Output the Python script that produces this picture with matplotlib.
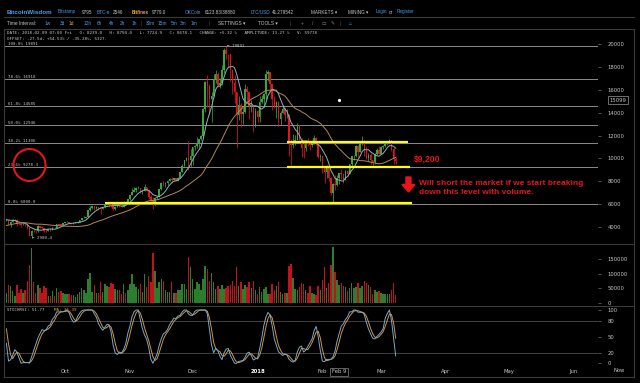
import numpy as np
import pandas as pd
import matplotlib
matplotlib.use("Agg")
import matplotlib.pyplot as plt
from matplotlib.patches import Ellipse, Polygon
from matplotlib.lines import Line2D

W, H = 640, 383

# closes before the first visible candle (Aug 1 - Sep 2 2017), only feed the MA / StochRSI
warmup_close = [2718, 2711, 2804, 2895, 3252, 3213, 3379, 3419, 3342, 3381, 3650, 3884, 4073,
                4325, 4182, 4376, 4331, 4160, 4193, 4087, 4001, 4100, 4151, 4334, 4371, 4352,
                4382, 4382, 4579, 4565, 4703, 4892, 4578]

first_date = "2017-09-03"
# daily candles, Sep 3 2017 -> Mar 8 2018 (BTC/USD)
close = [
    # Sep
    4582, 4236, 4376, 4597, 4599, 4228, 4226, 4122, 4162, 4130, 3882, 3155, 3637, 3625,
    3582, 4065, 3925, 3906, 3631, 3630, 3792, 3682, 3926, 3892, 4200, 4174, 4164, 4338,
    # Oct
    4403, 4409, 4318, 4229, 4328, 4370, 4426, 4611, 4773, 4782, 4820, 5430, 5650, 5833,
    5678, 5726, 5605, 5590, 5708, 6011, 6031, 6009, 5930, 5526, 5750, 5905, 5780, 5754,
    6154, 6130, 6468,
    # Nov
    6767, 7078, 7207, 7379, 7407, 7022, 7144, 7459, 7143, 6618, 6357, 5950, 6559, 6635,
    7315, 7871, 7708, 7790, 8036, 8200, 8071, 8253, 8038, 8253, 8790, 9330, 9818, 10058,
    9888, 10233,
    # Dec
    10975, 11074, 11323, 11657, 11916, 14291, 16700, 16300, 15178, 15455, 16936, 17415,
    16408, 16564, 17706, 19497, 19140, 19114, 17776, 16624, 15802, 13831, 14699, 13925,
    14027, 16099, 15838, 14606, 14656, 12952, 14156,
    # Jan
    13657, 14982, 15201, 15599, 17429, 17527, 16477, 15170, 14595, 14973, 13405, 13980,
    14360, 13772, 13819, 11490, 11188, 11474, 11607, 12899, 11600, 10931, 10868, 11359,
    11259, 11171, 11441, 11787, 11296, 10107, 10221,
    # Feb
    9170, 8830, 9174, 8277, 6955, 7754, 7621, 8239, 8678, 8621, 8129, 8926, 8598, 9494,
    10166, 10233, 11112, 10551, 11225, 11403, 10690, 10005, 10301, 9813, 9664, 10366,
    10725, 10397,
    # Mar
    10951, 11086, 11489, 11512, 11573, 10779, 9965, 9779,
]
high = [
    4714, 4582, 4472, 4655, 4681, 4656, 4322, 4240, 4282, 4344, 4130, 3921, 3733, 3809,
    3706, 4110, 4074, 4041, 3917, 3788, 3819, 3799, 3970, 3957, 4211, 4248, 4194, 4363,
    4404, 4471, 4433, 4353, 4362, 4414, 4468, 4625, 4801, 4922, 4877, 5446, 5857, 5840,
    5839, 5785, 5766, 5605, 5724, 6070, 6194, 6076, 6072, 5935, 5800, 5976, 5990, 5877,
    6255, 6214, 6470,
    6767, 7367, 7461, 7492, 7601, 7418, 7207, 7776, 7506, 7312, 6795, 6625, 6626, 6696,
    7330, 7964, 8004, 7884, 8101, 8300, 8373, 8303, 8267, 8336, 8814, 9523, 9818, 10125,
    11517, 10801,
    11000, 11191, 11858, 11657, 12032, 14369, 16800, 17300, 16500, 15783, 17413, 17782,
    17568, 17069, 18155, 19716, 19891, 19177, 19150, 17813, 17301, 15823, 15493, 14869,
    14467, 16486, 16343, 15900, 15109, 14681, 14377,
    14200, 15444, 15572, 15739, 17705, 17712, 17584, 16537, 15497, 15000, 15000, 14109,
    14659, 14511, 14356, 13843, 11678, 12107, 12040, 13103, 12920, 11807, 11399, 11502,
    11742, 11634, 11620, 12072, 11875, 11307, 10381,
    10244, 9200, 9430, 9334, 8364, 7850, 8558, 8509, 8750, 9066, 8650, 8985, 8958, 9518,
    10219, 10324, 11140, 11200, 11250, 11958, 11646, 11088, 10428, 10501, 9860, 10475,
    10871, 11063,
    11099, 11190, 11528, 11513, 11690, 11574, 10899, 10100,
]
low = [
    4467, 4130, 3998, 4376, 4501, 4072, 4167, 3952, 4110, 4085, 3770, 3154, 2980.4, 3504,
    3445, 3575, 3868, 3867, 3570, 3519, 3595, 3658, 3682, 3856, 3884, 4140, 4030, 4164,
    4287, 4370, 4226, 4209, 4193, 4328, 4361, 4426, 4576, 4746, 4773, 4820, 5380, 5577,
    5446, 5578, 5502, 5109, 5523, 5629, 5930, 5722, 5687, 5453, 5450, 5749, 5722, 5686,
    5702, 6030, 6103,
    6377, 6758, 7002, 7031, 7344, 6945, 6906, 7115, 7101, 6423, 6199, 5519, 5845, 6463,
    6635, 7177, 7561, 7463, 7695, 7982, 7875, 8067, 8038, 8000, 8250, 8775, 9320, 9736,
    9009, 9202,
    9422, 10695, 10863, 10938, 11605, 11900, 14057, 14500, 13906, 13226, 15402, 16570,
    16273, 16185, 16444, 17515, 18750, 18022, 16812, 15643, 14888, 10875, 13356, 12750,
    13010, 14000, 14954, 13466, 14022, 12350, 12755,
    13154, 13163, 14844, 14522, 15202, 16764, 15791, 14208, 14424, 13530, 12842, 12916,
    13952, 13268, 13500, 10194, 9402, 10942, 11139, 11600, 11491, 10129, 10061, 10642,
    11100, 10689, 11002, 11434, 11179, 10037, 9777,
    8751, 7796, 8251, 8032, 6756, 6000, 7236, 7600, 7724.9, 8162, 7850, 8129, 8455, 8598,
    9347, 9824, 10149, 10080, 10513, 11200, 10233, 9906, 9745, 9513, 9367, 9501,
    10322, 10360,
    10352, 10850, 11002, 11136, 11431, 10629, 9467, 9460,
]
first_open = 4578
volume = [
    33700, 60500, 58000, 40700, 24400, 60500, 33700, 46500, 32600, 41900,
    73000, 130000, 187000, 72000, 35000, 60500, 48800, 35000, 58000, 51000,
    24400, 23000, 40700, 24400, 50000, 37200, 39500, 32600, 30000, 29000,
    29000, 26700, 26700, 21000, 30000, 36000, 51000, 45300, 33700, 82500,
    101000, 38400, 59300, 33700, 33700, 71000, 38400, 64000, 57000, 53500,
    68600, 65000, 46500, 45300, 41900, 30000, 62800, 35000, 41900, 62800,
    100000, 65000,
    53500, 46500, 65000, 38400, 100000, 53500, 90700, 72000, 170000, 109000,
    51000, 71000, 82500, 75600, 41900, 38400, 38400, 72000, 32600, 32600,
    41900, 41900, 65000, 65000, 47700, 158000, 123000, 82500, 47700, 69800,
    65000, 44200, 80200, 127000, 115000, 74400, 101000, 72000, 47700, 58000,
    47700, 60500, 46500, 50000, 57000, 60500, 73000, 58000, 123000, 58000,
    69800, 47700, 60500, 53500, 69800, 50000, 74400, 41900, 30000, 53500,
    38400, 47700, 53500,
    30200, 30200, 62800, 41900, 57000, 69800, 38400, 30200, 34900, 34900,
    126700, 131400, 86000, 47700, 45300, 54700, 66300, 64000, 44200, 33700,
    55800, 33700, 30200, 27900, 58100, 45300, 77900, 120900, 51200, 68600,
    129000, 190700, 104700, 79100, 59778, 66300, 57000, 52300, 39500, 50000,
    67400, 50000, 53500, 66300, 50000, 58100, 73300, 66300, 59300, 53500,
    30200, 44200, 37200, 40700, 32600, 30200, 30200, 30200, 29100, 41900,
    68600, 26700,
]

fib_levels = [6000.0, 9278.3, 11306, 12946, 14585, 16918, 19891]
fib_labels = ["0.0% 6000.0", "23.6% 9278.3", "38.2% 11306", "50.0% 12946",
              "61.8% 14585", "78.6% 16918", "100.0% 19891"]

# hand-drawn yellow levels: (price, from date, to date)
yellow_levels = [(11400, "2018-01-15", "2018-03-14"),
                 (9230, "2018-01-15", "2018-03-15"),
                 (6050, "2017-10-20", "2018-03-16")]

month_ticks = ["2017-10-01", "2017-11-01", "2017-12-01", "2018-01-01", "2018-02-01",
               "2018-03-01", "2018-04-01", "2018-05-01", "2018-06-01"]
month_labels = ["Oct", "Nov", "Dec", "2018", "Feb", "Mar", "Apr", "May", "Jun"]

price_ticks = [4000, 6000, 8000, 10000, 12000, 14000, 16000, 18000, 20000]
vol_ticks = [0, 50000, 100000, 150000]
stoch_ticks = [0, 20, 50, 80, 100]

hover_date = "2018-02-09"
hover_stoch = "STOCHRSI: 51.77"
hover_ma = "MA: 36.39"
cursor_price = 15099

GREEN, RED = "#38a838", "#e0161c"
VGREEN, VRED = "#2c7d2c", "#c0141a"
GREY = "#c8c8c8"
BLUE = "#4a9be8"
ORANGE = "#e8a33a"

origin = pd.Timestamp("2017-10-01")


def day(d):
    return (pd.Timestamp(d) - origin).days


close = np.array(close, float)
high = np.array(high, float)
low = np.array(low, float)
volume = np.array(volume, float)
opn = np.concatenate([[first_open], close[:-1]])
x = np.arange(len(close)) + day(first_date)

# indicators over the full close history
allc = pd.Series(list(warmup_close) + list(close), dtype=float)
n = len(close)
ma7 = allc.rolling(7).mean().values[-n:]
ma30 = allc.rolling(30).mean().values[-n:]
delta = allc.diff()
gain = delta.clip(lower=0).ewm(alpha=1 / 14, adjust=False).mean()
loss = (-delta.clip(upper=0)).ewm(alpha=1 / 14, adjust=False).mean()
rsi = 100 - 100 / (1 + gain / loss)
lo, hi = rsi.rolling(14).min(), rsi.rolling(14).max()
stoch = (rsi - lo) / (hi - lo) * 100
k = stoch.rolling(3).mean()
d = k.rolling(3).mean()
k = k.values[-n:]
d = d.values[-n:]

fig = plt.figure(figsize=(6.4, 3.83), dpi=100, facecolor="black")


def rect(top, bottom, left=5, right=598):
    return [left / W, 1 - bottom / H, (right - left) / W, (bottom - top) / H]


def fx(px):
    return px / W


def fy(py):
    return 1 - py / H


ax = fig.add_axes(rect(42, 243))
axv = fig.add_axes(rect(245, 305))
axs = fig.add_axes(rect(306, 366))
for a in (ax, axv, axs):
    a.set_facecolor("black")
    for s in a.spines.values():
        s.set_visible(False)
    a.set_xlim(-28.67, 254.67)
    a.yaxis.tick_right()
    a.tick_params(axis="y", length=2, width=0.5, color="#777", pad=5,
                  labelsize=3.8, labelcolor=GREY)
    a.tick_params(axis="x", length=0)
    a.set_xticks([])

# ---- price panel
ax.set_ylim(2570, 20202)
ax.set_yticks(price_ticks)
ax.set_yticklabels([str(v) for v in price_ticks])
for lev, lab in zip(fib_levels, fib_labels):
    ax.axhline(lev, color="#8c8c8c", linewidth=0.7, zorder=1)
    ax.text(0.005, lev, lab, transform=ax.get_yaxis_transform(), fontsize=3,
            family="DejaVu Sans Mono", color=GREY, va="bottom")

up = close >= opn
ccol = np.where(up, GREEN, RED)
ax.vlines(x, low, high, colors=ccol, linewidth=0.55, zorder=3)
ax.bar(x, np.maximum(np.abs(close - opn), 30), bottom=np.minimum(opn, close),
       width=0.75, color=ccol, linewidth=0, zorder=3)
ax.plot(x, ma7, color="#8fb0c4", linewidth=0.7, zorder=4)
ax.plot(x, ma30, color="#b08a52", linewidth=0.7, zorder=4)

for lev, d0, d1 in yellow_levels:
    ax.plot([day(d0), day(d1)], [lev, lev], color="#ffff00", linewidth=1.6,
            solid_capstyle="butt", zorder=6)

imax = int(np.argmax(high))
imin = int(np.argmin(low))
ax.annotate("\u2190 %d" % high[imax], (x[imax], high[imax]), xytext=(0.5, 0),
            textcoords="offset points", fontsize=3, color=GREY, va="center",
            family="DejaVu Sans Mono")
ax.annotate("\u2190 %.1f" % low[imin], (x[imin], low[imin]), xytext=(0.5, 0),
            textcoords="offset points", fontsize=3, color=GREY, va="center",
            family="DejaVu Sans Mono")
ax.plot([day(hover_date)], [cursor_price], "o", color="white", markersize=1.3, zorder=7)
ax.annotate(str(cursor_price), (1, cursor_price), xycoords=("axes fraction", "data"),
            xytext=(8.5, 0), textcoords="offset points", fontsize=3.8, color=GREY,
            va="center", bbox=dict(boxstyle="square,pad=0.25", fc="black", ec="#999", lw=0.5))

# ---- volume panel
axv.set_ylim(-7900, 198100)
axv.set_yticks(vol_ticks)
axv.set_yticklabels([str(v) for v in vol_ticks])
axv.bar(x, volume, width=0.72, color=np.where(up, VGREEN, VRED), linewidth=0)

# ---- stoch rsi panel
axs.set_ylim(-5.1, 107.5)
axs.set_yticks(stoch_ticks)
axs.set_yticklabels([str(v) for v in stoch_ticks])
for lev in (20, 80):
    axs.axhline(lev, color="#4a4a4a", linewidth=0.6, zorder=1)
axs.plot(x, d, color="#d0944c", linewidth=0.7, zorder=3)
axs.plot(x, k, color="#79a9c8", linewidth=0.7, zorder=4)
axs.set_xticks([day(t) for t in month_ticks])
axs.set_xticklabels(month_labels)
axs.tick_params(axis="x", length=0, pad=2.5, labelsize=3.8, labelcolor=GREY)
for t in axs.get_xticklabels():
    if t.get_text() == "2018":
        t.set_color("white")
        t.set_fontweight("bold")
axs.annotate("Feb 9", (day(hover_date), 0), xycoords=("data", "axes fraction"),
             xytext=(0, -4.2), textcoords="offset points", ha="center", va="center",
             fontsize=3.8, color=GREY,
             bbox=dict(boxstyle="square,pad=0.3", fc="black", ec="#888", lw=0.5))
axs.text(0.003, 0.93, hover_stoch, transform=axs.transAxes, fontsize=3,
         color=GREY, family="DejaVu Sans Mono", va="center")
axs.text(0.082, 0.93, hover_ma, transform=axs.transAxes, fontsize=3,
         color=ORANGE, family="DejaVu Sans Mono", va="center")
fig.text(fx(619), fy(371), "Now", fontsize=3.8, color=GREY, ha="center", va="center")

# ---- frame and separators
for yy in (17, 29, 244, 306, 377):
    fig.add_artist(Line2D([fx(4), fx(634)], [fy(yy), fy(yy)], color="#3a3a3a", linewidth=0.8))
for xx in (4, 634):
    fig.add_artist(Line2D([fx(xx), fx(xx)], [fy(29), fy(377)], color="#3a3a3a", linewidth=0.8))

# ---- header
fam = ["Liberation Sans", "DejaVu Sans"]
row1 = [(7, "BitcoinWisdom", BLUE, "bold", 4.5), (58, "Bitstamp", BLUE, "normal", 3.3),
        (82, "9795", GREY, "normal", 3.3), (97, "BTC-e", BLUE, "normal", 3.3),
        (113, "2546", GREY, "normal", 3.3), (132, "Bitfinex", ORANGE, "bold", 3.3),
        (152, "9779.0", GREY, "normal", 3.3), (185, "OKCoin", BLUE, "normal", 3.3),
        (205, "6123.83/38880", GREY, "normal", 3.3), (251, "LTC/USD", BLUE, "normal", 3.3),
        (272, "41.279542", GREY, "normal", 3.3), (311, "MARKETS \u25be", GREY, "normal", 3.3),
        (348, "MINING \u25be", GREY, "normal", 3.3), (376, "Login", BLUE, "normal", 3.3),
        (389, "or", GREY, "normal", 3.3), (397, "Register", BLUE, "normal", 3.3)]
for px, txt, c, w, s in row1:
    fig.text(fx(px), fy(12), txt, color=c, fontweight=w, fontsize=s, family=fam, va="center")

row2 = [(7, "Time Interval:", GREY), (45, "1w", BLUE), (60, "3d", BLUE), (69, "1d", ORANGE),
        (84, "12h", BLUE), (97, "6h", BLUE), (109, "4h", BLUE), (120, "2h", BLUE),
        (132, "1h", BLUE), (141, "|", "#555"), (146, "30m", BLUE), (158, "15m", BLUE),
        (171, "5m", BLUE), (180, "3m", BLUE), (191, "1m", BLUE), (209, "|", "#555"),
        (218, "SETTINGS \u25be", GREY), (258, "TOOLS \u25be", GREY), (290, "|", "#555"),
        (301, "+", "#888"), (312, "/", "#888"), (322, "\u25ad", "#888"), (331, "\u270e", "#888"),
        (340, "|", "#555"), (349, "\u2302", BLUE)]
for px, txt, c in row2:
    fig.text(fx(px), fy(23.5), txt, color=c, fontsize=3.4, family=fam, va="center")

fig.text(fx(7), fy(33.5), "DATE: 2018-02-09 07:00 Fri   O: 8239.0   H: 8750.0   L: 7724.9   "
         "C: 8678.1   CHANGE: +5.32 %   AMPLITUDE: 13.27 %   V: 59778",
         fontsize=3.1, color=GREY, family="DejaVu Sans Mono", va="center")
fig.text(fx(7), fy(38.5), "OFFSET: -27.5d, +54.53% / -35.28%, 5327.",
         fontsize=3.1, color=GREY, family="DejaVu Sans Mono", va="center")

# ---- markup
RED_NOTE = "#e3161e"
fig.add_artist(Ellipse((fx(29.5), fy(165)), 32 / W, 32 / H, transform=fig.transFigure,
                       fill=False, edgecolor=RED_NOTE, linewidth=1.5))
arrow = [(406, 177), (411, 177), (411, 184.5), (415, 184.5), (408.5, 192), (402, 184.5), (406, 184.5)]
fig.add_artist(Polygon([(fx(a), fy(b)) for a, b in arrow], closed=True,
                       transform=fig.transFigure, color=RED_NOTE))
fig.text(fx(414), fy(159), "$9,200", color=RED_NOTE, fontsize=6.2, fontweight="bold",
         family=fam, va="center")
fig.text(fx(419), fy(183), "Will short the market if we start breaking", color=RED_NOTE,
         fontsize=6.05, fontweight="bold", family=fam, va="center")
fig.text(fx(419), fy(193), "down this level with volume.", color=RED_NOTE,
         fontsize=6.05, fontweight="bold", family=fam, va="center")

fig.savefig("out.png", dpi=100, facecolor="black")
